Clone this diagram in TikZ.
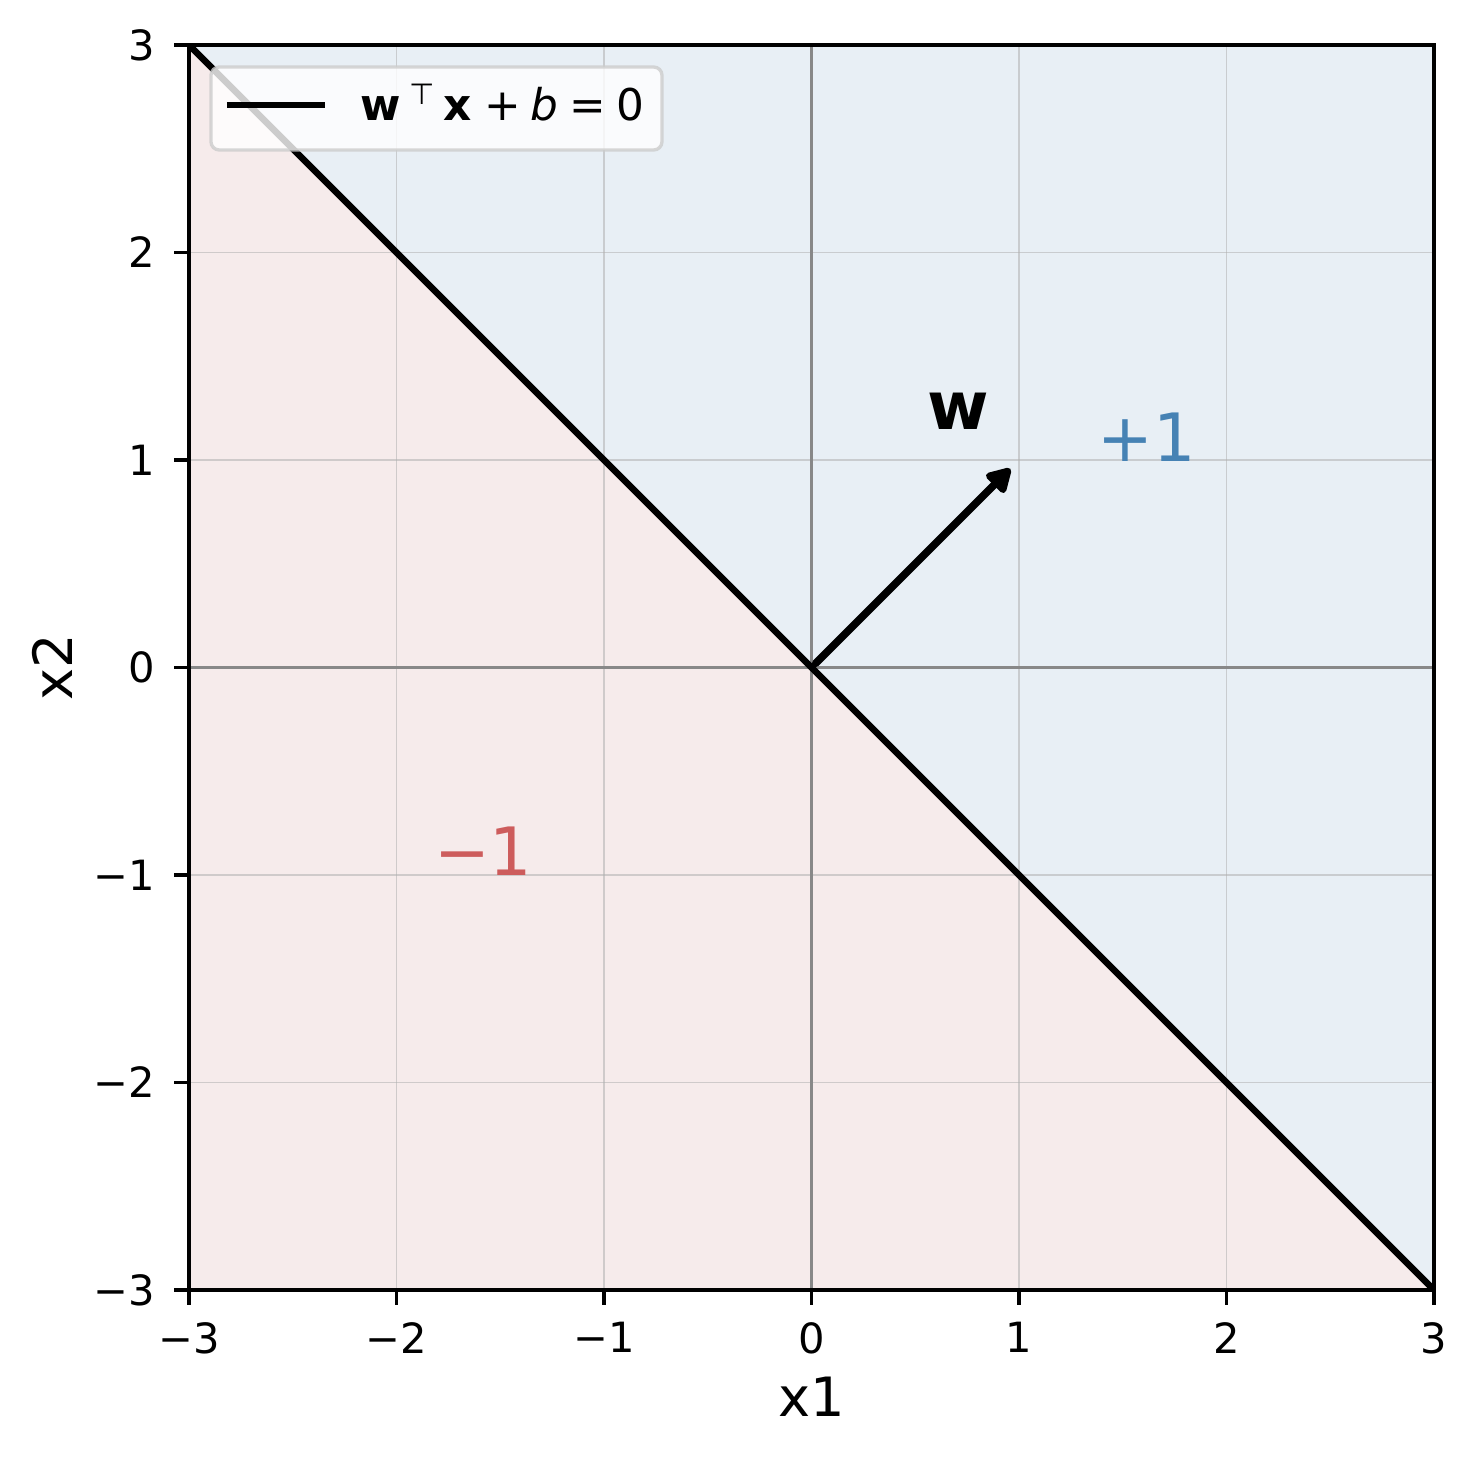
\documentclass[tikz,border=0pt]{standalone}
\usepackage{fontspec}
\setmainfont{DejaVu Sans}
\usetikzlibrary{arrows.meta}
\definecolor{posfill}{RGB}{232,239,245}
\definecolor{negfill}{RGB}{246,235,235}
\definecolor{posc}{HTML}{4682B4}
\definecolor{negc}{HTML}{CD5C5C}
\definecolor{gridc}{HTML}{B0B0B0}
\definecolor{zeroc}{RGB}{136,136,136}
\definecolor{legc}{RGB}{204,204,204}
\tikzset{
  gridline/.style={gridc, draw opacity=0.55, line width=0.45pt},
  zeroline/.style={zeroc, line width=0.7pt},
  spine/.style={black, line width=0.8pt},
  tickmark/.style={black, line width=0.8pt},
  ticklab/.style={inner sep=0pt, font=\fontsize{10}{12}\selectfont},
  axlab/.style={inner sep=0pt, font=\fontsize{13}{15}\selectfont},
  bigtxt/.style={inner sep=0pt, font=\fontsize{16}{19}\selectfont},
  boundary/.style={black, line width=1.6pt},
  vecarrow/.style={black, line width=1.8pt, line cap=round, -{Triangle[length=6.5pt,width=7pt,round]}},
  legbox/.style={draw=legc, fill=white, fill opacity=0.8, draw opacity=0.8, line width=0.8pt, rounded corners=2pt},
}
\begin{document}
\begin{tikzpicture}[x=49.8pt,y=49.8pt]
\useasboundingbox (-3.9108,-3.8096) rectangle (3.2072,3.2169);
\fill[white] (-3.9108,-3.8096) rectangle (3.2072,3.2169);
% regions
\fill[posfill] (-3,3) -- (3,3) -- (3,-3) -- cycle;
\fill[negfill] (-3,3) -- (-3,-3) -- (3,-3) -- cycle;
% grid
\foreach \v in {-2,-1,1,2} {
  \draw[gridline] (\v,-3) -- (\v,3);
  \draw[gridline] (-3,\v) -- (3,\v);
}
\draw[zeroline] (0,-3) -- (0,3);
\draw[zeroline] (-3,0) -- (3,0);
% boundary line
\begin{scope}
\clip (-3,-3) rectangle (3,3);
\coordinate (bl1) at (-3,3);
\coordinate (bl2) at (3,-3);
\draw[boundary] (bl1) -- (bl2);
\end{scope}
% weight vector
\coordinate (o) at (0.02,0.02);
\coordinate (wtip) at (0.958,0.958);
\draw[vecarrow] (o) -- (wtip);
\node[bigtxt, font=\fontsize{16}{19}\selectfont\bfseries] (wlab) at (0.706,1.233) {w};
\node[bigtxt, text=posc] (plus) at (1.615,1.108) {+1};
\node[bigtxt, text=negc] (minus) at (-1.582,-0.887) {−1};
% spines
\draw[spine] (-3,-3) rectangle (3,3);
% ticks
\foreach \v/\l in {-3/−3,-2/−2,-1/−1,0/0,1/1,2/2,3/3} {
  \draw[tickmark] (\v,-3) -- ++(0,-3.5pt);
  \node[ticklab, anchor=north] (xt\v) at ([yshift=-7.5pt]\v,-3) {\l};
  \draw[tickmark] (-3,\v) -- ++(-3.5pt,0);
  \node[ticklab, anchor=east] (yt\v) at ([xshift=-8pt]-3,\v) {\l};
}
\node[axlab] (xlab) at (0,-3.513) {x1};
\node[axlab, rotate=90] (ylab) at (-3.659,0) {x2};
% legend
\node[legbox, minimum width=451*0.24pt, minimum height=83*0.24pt, inner sep=0pt] (leg) at (-1.8073,2.694) {};
\coordinate (ls1) at (-2.817,2.711);
\coordinate (ls2) at (-2.345,2.711);
\draw[boundary] (ls1) -- (ls2);
\node[inner sep=0pt, anchor=base west, font=\fontsize{10.5}{12}\selectfont] (legtxt) at (-2.1759,2.6352)
  {\makebox[11.76pt][l]{\textbf{w}}\makebox[8.2pt][l]{\raisebox{3.9pt}{\fontsize{7}{8}\selectfont ⊤}}\makebox[9.8pt][l]{\textbf{x}}\makebox[11.0pt][l]{+}\makebox[9.36pt][l]{\textit{b}}\makebox[11.16pt][l]{=}0};
\end{tikzpicture}
\end{document}
